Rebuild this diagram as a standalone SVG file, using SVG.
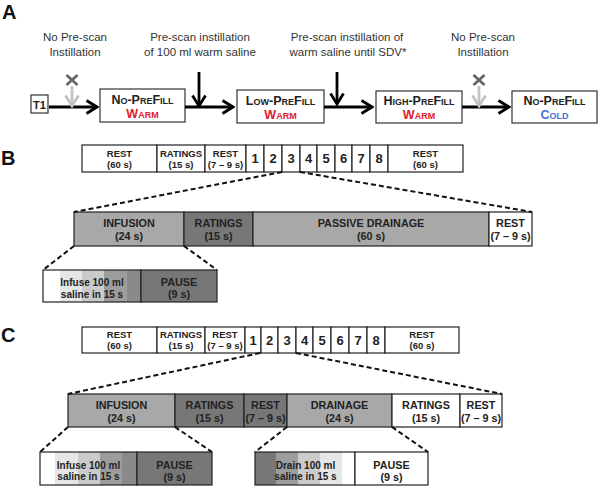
<svg xmlns="http://www.w3.org/2000/svg" width="600" height="486" viewBox="0 0 600 486">
<defs>
<style>
text{font-family:"Liberation Sans",Arial,sans-serif;text-anchor:middle}
.pl{font-size:20px;font-weight:bold;fill:#111;text-anchor:start}
.lbl{font-size:11.5px;fill:#333}
.bx{fill:#fff;stroke:#333;stroke-width:1.2}
.bt{font-size:12.5px;font-weight:bold;fill:#222;font-variant:small-caps}
.red{fill:#e0222b}
.blue{fill:#3f74d0}
.c{stroke:#222;stroke-width:1.2}
.w{fill:#fff}
.lg{fill:#a8a8a8}
.dg{fill:#777}
.t{font-size:9.5px;font-weight:bold;fill:#222}
.t2{font-size:10.8px;font-weight:bold;fill:#222}
.t3{font-size:10px;font-weight:bold;fill:#222}
.num{font-size:13px;font-weight:bold;fill:#222}
.dash{stroke:#111;stroke-width:2;stroke-dasharray:5 3;fill:none}
.arr{stroke:#000;stroke-width:2.8;fill:none}
.garr{stroke:#c2c2c2;stroke-width:2.8;fill:none}
.xm{stroke:#666;stroke-width:2.8}
.s1{fill:#fff}.s2{fill:#e6e6e6}.s3{fill:#cbcbcb}.s4{fill:#9d9d9d}.s5{fill:#8a8a8a}
</style>
<marker id="ah" viewBox="0 0 14 16" refX="12.5" refY="8" markerWidth="14" markerHeight="16" orient="auto" markerUnits="userSpaceOnUse">
<polyline points="2,1.5 12.5,8 2,14.5" fill="none" stroke="#000" stroke-width="2.8"/>
</marker>
<marker id="gah" viewBox="0 0 14 16" refX="12.5" refY="8" markerWidth="14" markerHeight="16" orient="auto" markerUnits="userSpaceOnUse">
<polyline points="2,1.5 12.5,8 2,14.5" fill="none" stroke="#c2c2c2" stroke-width="2.8"/>
</marker>
</defs>
<rect width="600" height="486" fill="#fff"/>

<!-- Panel A -->
<text class="pl" x="2" y="19">A</text>
<g id="labelsA">
<text class="lbl" x="75" y="41">No Pre-scan</text>
<text class="lbl" x="75" y="56">Instillation</text>
<text class="lbl" x="200" y="41">Pre-scan instillation</text>
<text class="lbl" x="200" y="56">of 100 ml warm saline</text>
<text class="lbl" x="347" y="41">Pre-scan instillation of</text>
<text class="lbl" x="348" y="56">warm saline until SDV*</text>
<text class="lbl" x="483" y="41">No Pre-scan</text>
<text class="lbl" x="483" y="56">Instillation</text>
</g>
<g id="nodeT1">
<rect class="bx" x="31" y="95" width="17" height="18"/>
<text x="39.5" y="108.5" style="font-size:11px;font-weight:bold;fill:#222">T1</text>
</g>
<g id="nodeNoPreWarm">
<rect class="bx" x="100" y="89" width="85" height="33"/>
<text class="bt" x="142.5" y="104">No-PreFill</text>
<text class="bt red" x="142.5" y="118">Warm</text>
</g>
<g id="nodeLowPreWarm">
<rect class="bx" x="237" y="90" width="87" height="33"/>
<text class="bt" x="280.5" y="105">Low-PreFill</text>
<text class="bt red" x="280.5" y="119">Warm</text>
</g>
<g id="nodeHighPreWarm">
<rect class="bx" x="376" y="91" width="86" height="32"/>
<text class="bt" x="419" y="104.5">High-PreFill</text>
<text class="bt red" x="419" y="119">Warm</text>
</g>
<g id="nodeNoPreCold">
<rect class="bx" x="512" y="91" width="85" height="32"/>
<text class="bt" x="554.5" y="105">No-PreFill</text>
<text class="bt blue" x="554.5" y="119">Cold</text>
</g>
<g id="connectorsA">
<line class="arr" x1="49" y1="107" x2="97" y2="107" marker-end="url(#ah)"/>
<line class="arr" x1="185" y1="107" x2="233" y2="107" marker-end="url(#ah)"/>
<line class="arr" x1="324" y1="107" x2="372" y2="107" marker-end="url(#ah)"/>
<line class="arr" x1="462" y1="107" x2="509" y2="107" marker-end="url(#ah)"/>
<line class="arr" x1="199" y1="72" x2="199" y2="106" marker-end="url(#ah)"/>
<line class="arr" x1="337" y1="72" x2="337" y2="104" marker-end="url(#ah)"/>
<line class="garr" x1="72" y1="86" x2="72" y2="106" marker-end="url(#gah)"/>
<line class="garr" x1="479" y1="86" x2="479" y2="106" marker-end="url(#gah)"/>
<path class="xm" d="M66.5,75 L77.5,85 M77.5,75 L66.5,85"/>
<path class="xm" d="M473.5,75 L484.5,85 M484.5,75 L473.5,85"/>
</g>

<!-- Panel B -->
<text class="pl" x="1" y="165">B</text>
<g id="rowB">
<rect class="c w" x="82" y="145" width="75" height="27"/>
<text class="t" x="119.5" y="157">REST</text><text class="t" x="119.5" y="168">(60 s)</text>
<rect class="c w" x="157" y="145" width="48" height="27"/>
<text class="t" x="181" y="157">RATINGS</text><text class="t" x="181" y="168">(15 s)</text>
<rect class="c w" x="205" y="145" width="41" height="27"/>
<text class="t" x="225.5" y="157">REST</text><text class="t" x="225.5" y="168">(7 – 9 s)</text>
<rect class="c w" x="246" y="145" width="18" height="27"/><text class="num" x="255" y="163">1</text>
<rect class="c w" x="264" y="145" width="18" height="27"/><text class="num" x="273" y="163">2</text>
<rect class="c w" x="282" y="145" width="18" height="27"/><text class="num" x="291" y="163">3</text>
<rect class="c w" x="300" y="145" width="17" height="27"/><text class="num" x="308.5" y="163">4</text>
<rect class="c w" x="317" y="145" width="18" height="27"/><text class="num" x="326" y="163">5</text>
<rect class="c w" x="335" y="145" width="17" height="27"/><text class="num" x="343.5" y="163">6</text>
<rect class="c w" x="352" y="145" width="18" height="27"/><text class="num" x="361" y="163">7</text>
<rect class="c w" x="370" y="145" width="18" height="27"/><text class="num" x="379" y="163">8</text>
<rect class="c w" x="388" y="145" width="75" height="27"/>
<text class="t" x="425.5" y="157">REST</text><text class="t" x="425.5" y="168">(60 s)</text>
</g>
<g id="trialB">
<rect class="c lg" x="74" y="212" width="110" height="34"/>
<text class="t2" x="129" y="227">INFUSION</text><text class="t2" x="129" y="240">(24 s)</text>
<rect class="c dg" x="184" y="212" width="69" height="34"/>
<text class="t2" x="218.5" y="227">RATINGS</text><text class="t2" x="218.5" y="240">(15 s)</text>
<rect class="c lg" x="253" y="212" width="236" height="34"/>
<text class="t2" x="371" y="227">PASSIVE DRAINAGE</text><text class="t2" x="371" y="240">(60 s)</text>
<rect class="c w" x="489" y="212" width="43" height="34"/>
<text class="t2" x="510.5" y="227">REST</text><text class="t2" x="510.5" y="240">(7 – 9 s)</text>
</g>
<g id="infuseB">
<rect class="s1" x="43" y="270" width="17" height="32"/>
<rect class="s2" x="60" y="270" width="22" height="32"/>
<rect class="s3" x="82" y="270" width="22" height="32"/>
<rect class="s4" x="104" y="270" width="23" height="32"/>
<rect class="s5" x="127" y="270" width="14" height="32"/>
<rect class="c" fill="none" x="43" y="270" width="98" height="32"/>
<text class="t3" x="92" y="286">Infuse 100 ml</text><text class="t3" x="92" y="297.5">saline in 15 s</text>
<rect class="c dg" x="141" y="270" width="76" height="32"/>
<text class="t2" x="179" y="286">PAUSE</text><text class="t2" x="179" y="298">(9 s)</text>
</g>

<!-- Panel C -->
<text class="pl" x="1" y="342">C</text>
<g id="rowC">
<rect class="c w" x="82" y="327" width="75" height="26"/>
<text class="t" x="119.5" y="338">REST</text><text class="t" x="119.5" y="349">(60 s)</text>
<rect class="c w" x="157" y="327" width="48" height="26"/>
<text class="t" x="181" y="338">RATINGS</text><text class="t" x="181" y="349">(15 s)</text>
<rect class="c w" x="205" y="327" width="40" height="26"/>
<text class="t" x="225" y="338">REST</text><text class="t" x="225" y="349">(7 – 9 s)</text>
<rect class="c w" x="245" y="327" width="16" height="26"/><text class="num" x="253" y="345">1</text>
<rect class="c w" x="261" y="327" width="17" height="26"/><text class="num" x="269.5" y="345">2</text>
<rect class="c w" x="278" y="327" width="18" height="26"/><text class="num" x="287" y="345">3</text>
<rect class="c w" x="296" y="327" width="17" height="26"/><text class="num" x="304.5" y="345">4</text>
<rect class="c w" x="313" y="327" width="18" height="26"/><text class="num" x="322" y="345">5</text>
<rect class="c w" x="331" y="327" width="18" height="26"/><text class="num" x="340" y="345">6</text>
<rect class="c w" x="349" y="327" width="18" height="26"/><text class="num" x="358" y="345">7</text>
<rect class="c w" x="367" y="327" width="18" height="26"/><text class="num" x="376" y="345">8</text>
<rect class="c w" x="385" y="327" width="74" height="26"/>
<text class="t" x="422" y="338">REST</text><text class="t" x="422" y="349">(60 s)</text>
</g>
<g id="trialC">
<rect class="c lg" x="68" y="394" width="107" height="33"/>
<text class="t2" x="121.5" y="409">INFUSION</text><text class="t2" x="121.5" y="421.5">(24 s)</text>
<rect class="c dg" x="175" y="394" width="69" height="33"/>
<text class="t2" x="209.5" y="409">RATINGS</text><text class="t2" x="209.5" y="421.5">(15 s)</text>
<rect class="c dg" x="244" y="394" width="43" height="33"/>
<text class="t2" x="265.5" y="409">REST</text><text class="t2" x="265.5" y="421.5">(7 – 9 s)</text>
<rect class="c lg" x="287" y="394" width="105" height="33"/>
<text class="t2" x="339.5" y="409">DRAINAGE</text><text class="t2" x="339.5" y="421.5">(24 s)</text>
<rect class="c w" x="392" y="394" width="68" height="33"/>
<text class="t2" x="426" y="409">RATINGS</text><text class="t2" x="426" y="421.5">(15 s)</text>
<rect class="c w" x="460" y="394" width="42" height="33"/>
<text class="t2" x="481" y="409">REST</text><text class="t2" x="481" y="421.5">(7 – 9 s)</text>
</g>
<g id="infuseC">
<rect class="s1" x="40" y="452" width="15" height="33"/>
<rect class="s2" x="55" y="452" width="23" height="33"/>
<rect class="s3" x="78" y="452" width="22" height="33"/>
<rect class="s4" x="100" y="452" width="22" height="33"/>
<rect class="s5" x="122" y="452" width="15" height="33"/>
<rect class="c" fill="none" x="40" y="452" width="97" height="33"/>
<text class="t3" x="88.5" y="469">Infuse 100 ml</text><text class="t3" x="88.5" y="480">saline in 15 s</text>
<rect class="c dg" x="137" y="452" width="75" height="33"/>
<text class="t2" x="174.5" y="469">PAUSE</text><text class="t2" x="174.5" y="481">(9 s)</text>
</g>
<g id="drainC">
<rect fill="#777" x="255" y="452" width="21" height="33"/>
<rect class="s4" x="276" y="452" width="22" height="33"/>
<rect class="s3" x="298" y="452" width="22" height="33"/>
<rect class="s2" x="320" y="452" width="22" height="33"/>
<rect class="s1" x="342" y="452" width="13" height="33"/>
<rect class="c" fill="none" x="255" y="452" width="100" height="33"/>
<text class="t3" x="305.5" y="469">Drain 100 ml</text><text class="t3" x="305.5" y="480">saline in 15 s</text>
<rect class="c w" x="355" y="452" width="73" height="33"/>
<text class="t2" x="391.5" y="469">PAUSE</text><text class="t2" x="391.5" y="481">(9 s)</text>
</g>

<g id="connectorsBC">
<line class="dash" x1="282" y1="172" x2="74" y2="212"/>
<line class="dash" x1="300" y1="172" x2="532" y2="212"/>
<line class="dash" x1="74" y1="246" x2="43" y2="270"/>
<line class="dash" x1="184" y1="246" x2="217" y2="270"/>
<line class="dash" x1="260" y1="353" x2="68" y2="394"/>
<line class="dash" x1="296" y1="353" x2="502" y2="394"/>
<line class="dash" x1="68" y1="427" x2="40" y2="452"/>
<line class="dash" x1="175" y1="427" x2="212" y2="452"/>
<line class="dash" x1="287" y1="427" x2="255" y2="452"/>
<line class="dash" x1="392" y1="427" x2="428" y2="452"/>
</g>
</svg>
